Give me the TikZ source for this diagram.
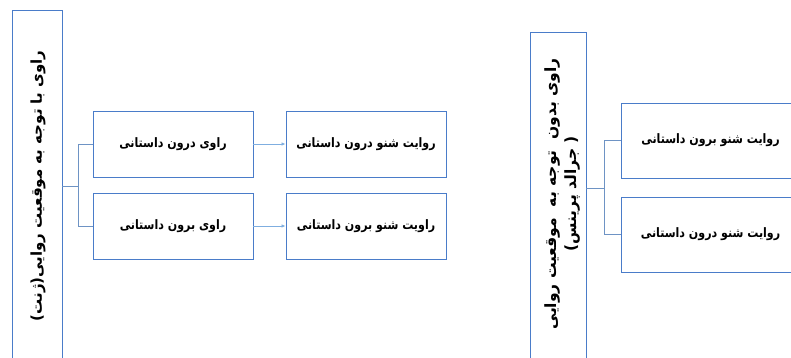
\documentclass[tikz,border=0pt]{standalone}
\usepackage{fontspec}
\setmainfont{DejaVu Sans}
\newfontfamily\arabicfont[Script=Arabic]{DejaVu Sans}
\TeXXeTstate=1
\usetikzlibrary{arrows.meta}
\definecolor{boxblue}{HTML}{4A7CC9}
\definecolor{lineblue}{HTML}{6E93C4}
\definecolor{arrblue}{HTML}{7FAEE0}
\newcommand{\fatxt}[1]{\scalebox{0.85}[1]{\beginR #1\endR}}
\tikzset{
  box/.style={draw=boxblue, line width=0.9pt, inner sep=0pt, fill=white},
  lbl/.style={font=\arabicfont\bfseries\fontsize{13}{15}\selectfont, inner sep=0pt},
  rlbl/.style={font=\arabicfont\bfseries\fontsize{15}{21}\selectfont, inner sep=0pt, rotate=90, align=center},
  conn/.style={draw=lineblue, line width=0.9pt},
  arr/.style={draw=arrblue, line width=0.9pt, -{Latex[length=4pt,width=3.5pt]}}
}
\begin{document}
\begin{tikzpicture}[x=1pt,y=-1pt]
\useasboundingbox[fill=white] (0,0) rectangle (791,358);
% left tall box
\node[box, minimum width=50pt, minimum height=352pt] (L) at (37,186) {};
\node[rlbl] (Lt) at (38,186) {\beginR راوی با توجه به موقعیت روایی(ژنت)\endR};
% middle boxes
\node[box, minimum width=160pt, minimum height=66pt] (A1) at (173,144) {};
\node[lbl] (A1t) at (A1.center) {\fatxt{راوی درون داستانی}};
\node[box, minimum width=160pt, minimum height=66pt] (A2) at (173,226) {};
\node[lbl] (A2t) at (A2.center) {\fatxt{راوی برون داستانی}};
\node[box, minimum width=160pt, minimum height=66pt] (B1) at (366,144) {};
\node[lbl] (B1t) at (B1.center) {\fatxt{روایت شنو درون داستانی}};
\node[box, minimum width=160pt, minimum height=66pt] (B2) at (366,226) {};
\node[lbl] (B2t) at (B2.center) {\fatxt{راویت شنو برون داستانی}};
% right tall box
\node[box, minimum width=56pt, minimum height=330pt] (R) at (558,197) {};
\node[rlbl, font=\arabicfont\bfseries\fontsize{15.5}{20}\selectfont] (Rt) at (562,194) {\beginR راوی بدون\ \ توجه به\ \ موقعیت روایی\endR\\\beginR( جرالد پرینس)\endR};
% right boxes
\node[box, minimum width=179pt, minimum height=75pt] (C1) at (710.5,140.5) {};
\node[lbl] (C1t) at (C1.center) {\fatxt{روایت شنو برون داستانی}};
\node[box, minimum width=179pt, minimum height=75pt] (C2) at (710.5,234.5) {};
\node[lbl] (C2t) at (C2.center) {\fatxt{روایت شنو درون داستانی}};
% connectors
\draw[conn] (L.east) -- ++(16,0) coordinate (j1);
\draw[conn] (j1) |- (A1.west);
\draw[conn] (j1) |- (A2.west);
\coordinate (j2) at (604,188);
\draw[conn] (R.east |- j2) -- (j2);
\draw[conn] (j2) |- (C1.west);
\draw[conn] (j2) |- (C2.west);
\draw[arr] (A1.east) -- (B1.west);
\draw[arr] (A2.east) -- (B2.west);
\end{tikzpicture}
\end{document}
